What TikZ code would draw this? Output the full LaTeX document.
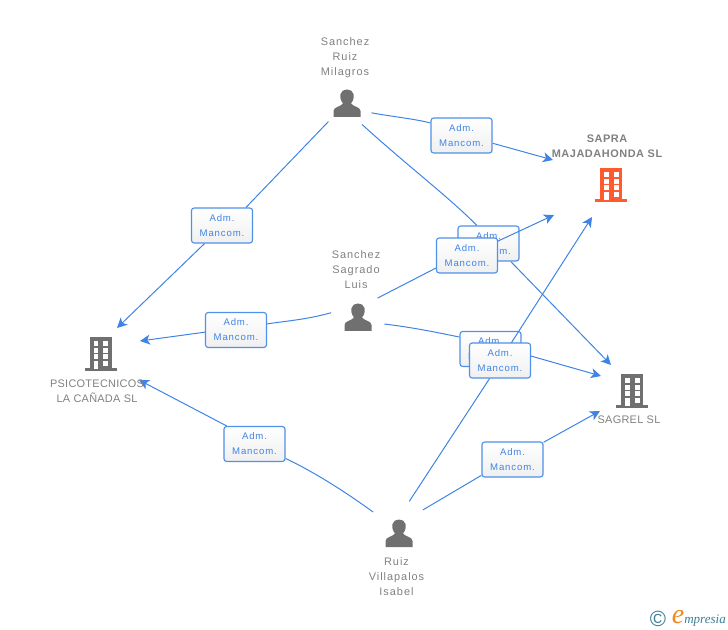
\documentclass[tikz,border=0pt]{standalone}
\usepackage{fontspec}
\setmainfont{Liberation Sans}
\newfontfamily\lab[LetterSpace=9]{Liberation Sans}
\newfontfamily\caplab[LetterSpace=2.5]{Liberation Sans}
\newfontfamily\boldlab[LetterSpace=5]{Liberation Sans}
\newfontfamily\logofont{Liberation Serif}
\usetikzlibrary{arrows.meta,backgrounds}
\definecolor{linkblue}{HTML}{3F84E5}
\definecolor{boxedge}{HTML}{4F90E8}
\definecolor{labgrey}{HTML}{808080}
\definecolor{icongrey}{HTML}{707070}
\definecolor{hotorange}{HTML}{FF5A30}
\definecolor{logoteal}{HTML}{3E7F96}
\definecolor{logoorange}{HTML}{F08A1D}
\tikzset{
  x=0.75pt,y=-0.75pt,
  link/.style={draw=linkblue,line width=0.75pt},
  arrowlink/.style={link,-{Stealth[length=7.5pt,width=7.5pt,inset=2pt]}},
  relbox/.style={draw=boxedge,line width=0.85pt,rounded corners=2pt,top color=white,bottom color=white!94!black,
    minimum width=45.8pt,minimum height=26.2pt,inner sep=0pt,align=center,text=linkblue,
    font=\lab\fontsize{7.2pt}{11.2pt}\selectfont},
  txt/.style={text=labgrey,align=center,inner sep=0pt,font=\lab\fontsize{8.2pt}{11.25pt}\selectfont},
  captxt/.style={text=labgrey,align=center,inner sep=0pt,font=\caplab\fontsize{8.2pt}{11.25pt}\selectfont},
  boldtxt/.style={text=labgrey,align=center,inner sep=0pt,font=\boldlab\bfseries\fontsize{8.2pt}{11.25pt}\selectfont},
  anchorspot/.style={circle,inner sep=0pt,minimum size=#1*1.5pt},
  pics/person/.style={code={
    \fill[icongrey] (-13.5,14) -- (-13.5,8) .. controls (-13.5,4) and (-6,3.5) .. (-4,0.5)
      .. controls (-7,-3) and (-7,-7) .. (-6.5,-9) .. controls (-5.5,-15) and (5.5,-15) .. (6.5,-9)
      .. controls (7,-7) and (7,-3) .. (4,0.5) .. controls (6,3.5) and (13.5,4) .. (13.5,8) -- (13.5,14) -- cycle;
  }},
  pics/tower/.style={code={
    \fill[#1] (-11,-17) rectangle (11,14.5);
    \fill[#1] (-16,14) rectangle (16,17);
    \foreach \wy in {-12.7,-5.7,0.5}{
      \fill[white] (-7,\wy) rectangle (-2.3,\wy+4.7);
      \fill[white] (2.7,\wy) rectangle (7.6,\wy+4.7);
    }
    \fill[white] (-7,7) rectangle (-2.3,15);
    \fill[white] (2.7,7) rectangle (7.6,11.7);
  }},
}
\begin{document}
\begin{tikzpicture}
\useasboundingbox (0,0) rectangle (728,630);
% arrow tips (free ends)
\coordinate (tipA) at (553,160);
\coordinate (tipB) at (554,215);
\coordinate (tipC) at (592,217);
\coordinate (tipD) at (611,365);
\coordinate (tipE) at (601,376);
\coordinate (tipF) at (600,411);
\coordinate (tipG) at (117,328);
\coordinate (tipH) at (140,341);
\coordinate (tipI) at (139,380);
\coordinate (centreB4) at (467,255.5);
\coordinate (centreB7) at (500,360.5);
% people and companies
\node[anchorspot=26] (mil) at (347,103) {};
\node[anchorspot=27] (luis) at (358,317) {};
\node[anchorspot=33] (isa) at (399,533) {};
\pic at (mil) {person};
\pic at (luis) {person};
\pic at (isa) {person};
\pic at (611,185) {tower=hotorange};
\pic at (100.5,354) {tower=icongrey};
\pic at (632,391) {tower=icongrey};
\node[txt] (milT) at (345,57.5) {Sanchez\\Ruiz\\Milagros};
\node[txt] (luisT) at (356,270) {Sanchez\\Sagrado\\Luis};
\node[txt] (isaT) at (396.5,577) {Ruiz\\Villapalos\\Isabel};
\node[boldtxt] (sapra) at (607,146) {SAPRA\\MAJADAHONDA SL};
\node[captxt] (psico) at (97,391) {PSICOTECNICOS\\LA CAÑADA SL};
\node[captxt] (sagrel) at (629,420) {SAGREL SL};
% relation boxes, with the two connectors that run over a box drawn between them
\node[relbox] (b1) at (461.5,135.5) {Adm.\\Mancom.};
\node[relbox] (b2) at (222,225.5) {Adm.\\Mancom.};
\node[relbox] (b3) at (488.5,243.5) {Adm.\\Mancom.};
\draw[arrowlink] (centreB4) -- (tipB);
\node[relbox] (b4) at (centreB4) {Adm.\\Mancom.};
\node[relbox] (b5) at (236,330) {Adm.\\Mancom.};
\node[relbox] (b6) at (490.5,349) {Adm.\\Mancom.};
\draw[arrowlink] (centreB7) -- (tipC);
\node[relbox] (b7) at (centreB7) {Adm.\\Mancom.};
\node[relbox] (b8) at (254.5,444) {Adm.\\Mancom.};
\node[relbox] (b9) at (512.5,459.5) {Adm.\\Mancom.};
% connectors under the boxes
\begin{scope}[on background layer]
\draw[link] (mil.-22) .. controls (395,117) and (415,119) .. (b1.158);
\draw[arrowlink] (b1.-14) -- (tipA);
\draw[link] (mil.-135) -- (b2.37);
\draw[arrowlink] (b2.226) -- (tipG);
\draw[link] (mil.-55) .. controls (410,168) and (450,198) .. (b3.123);
\draw[arrowlink] (b3.-39) -- (tipD);
\draw[link] (luis.44) -- (b4.202);
\draw[link] (luis.171) .. controls (305,320) and (285,321) .. (b5.11);
\draw[arrowlink] (b5.184) -- (tipH);
\draw[link] (luis.-15) .. controls (410,327) and (435,332) .. (b6.159);
\draw[arrowlink] (b6.-8) -- (tipE);
\draw[link] (isa.72) -- (b7.240);
\draw[link] (isa.141) .. controls (340,488) and (310,470) .. (b8.-25);
\draw[arrowlink] (b8.147) -- (tipI);
\draw[link] (isa.44) -- (b9.207);
\draw[arrowlink] (b9.29) -- (tipF);
\end{scope}
% logo
\node[text=logoteal,inner sep=0pt,font=\fontsize{16.5pt}{17pt}\selectfont] (copy) at (658,619) {©};
\node[text=logoorange,inner sep=0pt,font=\logofont\itshape\fontsize{21pt}{21pt}\selectfont] (logoE) at (678,617) {e};
\node[text=logoteal,inner sep=0pt,anchor=base west,font=\logofont\itshape\fontsize{9.8pt}{10pt}\selectfont] (logoM) at (684,623) {mpresia};
\end{tikzpicture}
\end{document}
